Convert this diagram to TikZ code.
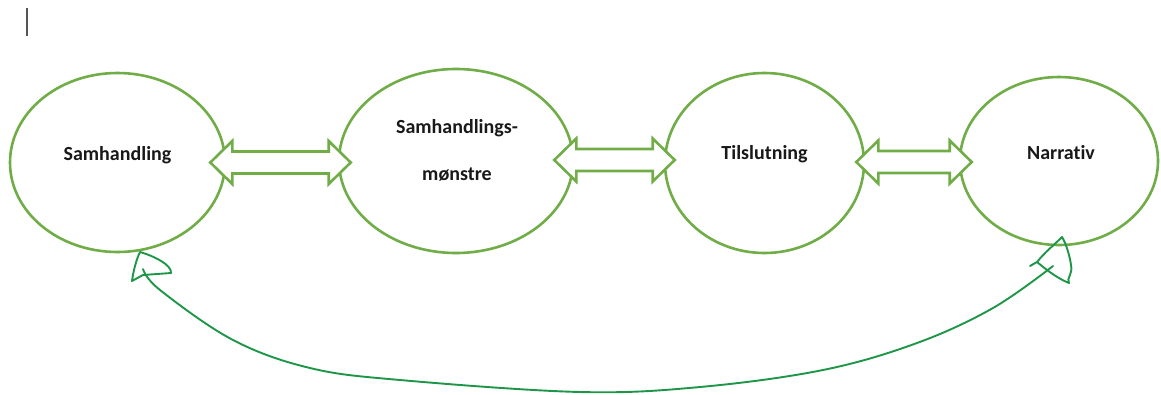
\documentclass[tikz,border=0pt]{standalone}
\usepackage{fontspec}
\setmainfont{Carlito}[Ligatures=NoCommon, RawFeature={-liga;-clig}]
\usetikzlibrary{shapes.geometric,calc}
\definecolor{ringgreen}{RGB}{112,173,71}
\definecolor{pengreen}{RGB}{30,150,72}
\definecolor{caretgray}{RGB}{85,85,85}
\definecolor{inktext}{RGB}{25,25,25}

% hollow two-headed block arrow between two named points
\newcommand{\twinarrow}[2]{%
  \draw[twin] let \p1=(#1), \p2=(#2) in
    (\x1,\y1) -- (\x1+22pt,\y1+21.5pt) -- (\x1+22pt,\y1+11pt)
    -- (\x2-22pt,\y1+11pt) -- (\x2-22pt,\y1+21.5pt) -- (\x2,\y1)
    -- (\x2-22pt,\y1-21.5pt) -- (\x2-22pt,\y1-11pt)
    -- (\x1+22pt,\y1-11pt) -- (\x1+22pt,\y1-21.5pt) -- cycle;}

\begin{document}
\begin{tikzpicture}[x=1pt,y=-1pt,
  ring/.style={draw=ringgreen, line width=2.6pt, ellipse, inner sep=0pt},
  word/.style={font=\bfseries\fontsize{20}{24}\selectfont, text=inktext, anchor=base, inner sep=0pt},
  twin/.style={draw=ringgreen, fill=white, line width=2.6pt, line join=miter},
  pen/.style={draw=pengreen, line width=1.9pt, line cap=round, line join=round}]

\useasboundingbox[fill=white] (0,0) rectangle (1161,394);

% text cursor mark in the corner
\draw[caretgray, line width=1.3pt] (27,8) -- (27,36);

% the four stages
\node[ring, minimum width=215pt, minimum height=179pt] (e1) at (117.5,162.5) {};
\node[ring, minimum width=234pt, minimum height=184pt] (e2) at (456,161) {};
\node[ring, minimum width=199pt, minimum height=180pt] (e3) at (764.5,163) {};
\node[ring, minimum width=198pt, minimum height=168pt] (e4) at (1059,161) {};

\node[word] (t1)  at ($(e1)+(0,-2.5)$) {Samhandling};
\node[word] (t2a) at ($(e2)+(1,-28)$) {Samhandlings-};
\node[word] (t2b) at ($(e2)+(1,19)$) {mønstre};
\node[word] (t3)  at ($(e3)+(0,-4)$) {Tilslutning};
\node[word] (t4)  at ($(e4)+(2,-2)$) {Narrativ};

% two-way links between neighbouring stages
\coordinate (a1l) at ($(e1.east)+(-16,0)$);
\coordinate (a1r) at ($(e2.west)+(13,0)$);
\coordinate (a2l) at ($(e2.east)+(-20,-1)$);
\coordinate (a2r) at ($(e3.west)+(11,0)$);
\coordinate (a3l) at ($(e3.east)+(-9,-1)$);
\coordinate (a3r) at ($(e4.west)+(13,0)$);
\twinarrow{a1l}{a1r}
\twinarrow{a2l}{a2r}
\twinarrow{a3l}{a3r}

% hand-drawn feedback loop from Narrativ back to Samhandling
\coordinate (loopL) at (140,252);
\coordinate (loopR) at (1062,237);

\draw[pen] plot[smooth, tension=0.6] coordinates {
  ($(loopL)+(3,17)$) (160,290) (233,340) (310,368) (400,380) (580,392)
  (700,387) (823,370) (917,343) (993,308) ($(loopR)+(-9,29)$)};

% left head (pointing up to Samhandling)
\draw[pen] (loopL) .. controls +(-4,8) and +(1,-8) .. ++(-8,29)
  -- ++(11,-6) -- ++(28,-2)
  .. controls +(1,-8) and +(14,4) .. (loopL);

% right head (pointing up to Narrativ)
\draw[pen] ($(loopR)+(-32,29)$) -- ($(loopR)+(-25,25)$)
  .. controls +(12,10) and +(-10,-4) .. ($(loopR)+(7,46)$)
  .. controls +(-3,-5) and +(2,10) .. ($(loopR)+(9,28)$)
  .. controls +(-1,-8) and +(4,6) .. (loopR)
  .. controls +(-8,8) and +(8,-10) .. ($(loopR)+(-25,25)$);
\end{tikzpicture}
\end{document}
